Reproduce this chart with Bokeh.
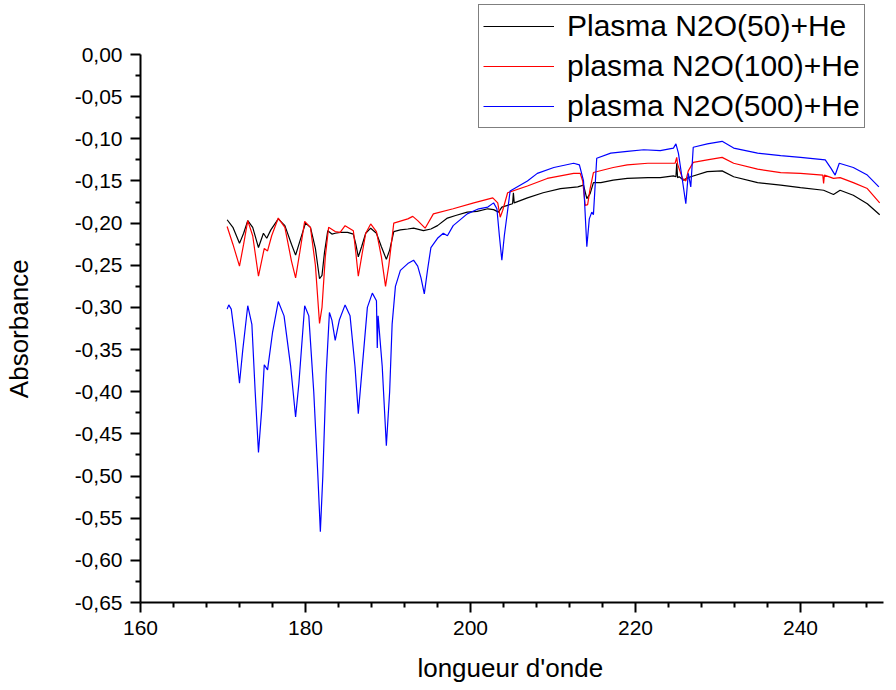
from bokeh.plotting import figure
from bokeh.models import Range1d, FixedTicker, CustomJSTickFormatter, Legend, LegendItem
from bokeh.embed import file_html
from bokeh.resources import INLINE

# ---- data ----
wl_50 = [170.5, 171.2, 172.0, 172.5, 173.0, 173.6, 174.3, 174.9, 175.3, 175.8, 176.7, 177.5, 178.3, 178.8,
         179.3, 180.0, 180.6, 181.2, 181.7, 182.0, 182.3, 182.7, 183.2, 183.6, 184.2, 185.1, 185.8, 186.1,
         186.4, 186.8, 187.3, 187.9, 188.6, 189.2, 189.8, 190.2, 190.7, 191.5, 192.4, 193.1, 194.3, 195.2,
         196.0, 197.2, 198.2, 199.6, 200.8, 202.1, 202.8, 203.4, 203.8, 205.1, 205.2, 205.3, 206.9, 208.8, 210.9, 213.0,
         213.7, 214.1, 214.5, 214.9, 215.8, 217.3, 219.0, 221.5, 223.0, 224.6, 224.9, 225.0, 225.1, 225.3,
         225.8, 226.4, 226.7, 228.7, 230.5, 231.9, 234.8, 237.6, 240.0, 242.8, 244.0, 244.8, 246.4, 248.1, 249.6]
abs_50 = [-0.196, -0.205, -0.224, -0.212, -0.197, -0.205, -0.229, -0.212, -0.218, -0.208, -0.195, -0.203, -0.225, -0.238,
          -0.222, -0.200, -0.205, -0.230, -0.266, -0.262, -0.235, -0.209, -0.213, -0.212, -0.211, -0.211, -0.213, -0.225,
          -0.240, -0.228, -0.212, -0.206, -0.212, -0.228, -0.243, -0.232, -0.210, -0.208, -0.207, -0.206, -0.209, -0.207,
          -0.203, -0.194, -0.191, -0.187, -0.186, -0.183, -0.184, -0.187, -0.181, -0.177, -0.164, -0.176, -0.170, -0.164, -0.159, -0.157,
          -0.155, -0.171, -0.165, -0.152, -0.152, -0.149, -0.147, -0.146, -0.146, -0.144, -0.145, -0.129, -0.146, -0.145,
          -0.149, -0.146, -0.145, -0.139, -0.138, -0.145, -0.152, -0.155, -0.158, -0.161, -0.166, -0.161, -0.167, -0.177, -0.190]

wl_100 = [170.5, 171.2, 172.0, 172.5, 173.0, 173.6, 174.3, 175.0, 175.4, 175.9, 176.7, 177.5, 178.3, 178.8,
          179.3, 179.9, 180.6, 181.2, 181.7, 182.0, 182.4, 182.8, 183.6, 184.2, 184.8, 185.8, 186.1, 186.4,
          186.8, 187.3, 187.9, 188.6, 189.2, 189.7, 190.1, 190.7, 192.4, 193.0, 193.6, 194.5, 195.5, 197.9,
          200.4, 202.7, 203.3, 203.6, 203.9, 204.5, 206.9, 209.3, 212.5, 213.3, 213.6, 213.9, 214.2, 214.5,
          214.9, 217.3, 219.0, 221.5, 223.0, 224.8, 225.0, 225.1, 225.7, 226.1, 226.4, 227.0, 228.7, 230.5,
          231.9, 234.8, 237.6, 240.0, 242.7, 242.8, 242.9, 244.0, 244.8, 246.4, 248.1, 249.6]
abs_100 = [-0.204, -0.225, -0.251, -0.225, -0.197, -0.215, -0.263, -0.230, -0.233, -0.215, -0.194, -0.205, -0.245, -0.265,
           -0.235, -0.198, -0.205, -0.250, -0.319, -0.300, -0.240, -0.205, -0.210, -0.211, -0.203, -0.209, -0.235, -0.263,
           -0.240, -0.212, -0.201, -0.210, -0.240, -0.275, -0.250, -0.200, -0.195, -0.192, -0.197, -0.206, -0.189, -0.183,
           -0.176, -0.170, -0.176, -0.193, -0.185, -0.164, -0.156, -0.147, -0.141, -0.141, -0.150, -0.179, -0.178, -0.159,
           -0.140, -0.134, -0.131, -0.129, -0.129, -0.129, -0.122, -0.130, -0.147, -0.150, -0.138, -0.128, -0.125, -0.122,
           -0.129, -0.136, -0.140, -0.141, -0.143, -0.153, -0.143, -0.147, -0.146, -0.152, -0.159, -0.176]

wl_500 = [170.5, 170.7, 171.0, 171.5, 172.0, 172.4, 173.0, 173.5, 173.9, 174.3, 174.7, 175.0, 175.4, 176.0,
          176.7, 177.4, 178.2, 178.8, 179.2, 179.9, 180.4, 181.0, 181.5, 181.8, 182.1, 182.5, 182.9, 183.2,
          183.6, 184.1, 184.8, 185.4, 186.0, 186.4, 186.8, 187.5, 188.1, 188.6, 188.7, 188.8, 189.3, 189.8,
          190.2, 190.5, 190.9, 191.5, 192.4, 193.1, 193.6, 194.0, 194.4, 194.8, 195.2, 196.0, 196.7, 197.2,
          197.9, 199.6, 201.0, 202.1, 202.8, 203.2, 203.5, 203.8, 204.1, 204.5, 204.8, 206.9, 208.1, 210.1,
          212.5, 213.2, 213.7, 214.1, 214.4, 214.7, 214.9, 215.3, 217.0, 219.0, 221.0, 223.0, 224.6, 224.9,
          225.2, 225.7, 226.1, 226.4, 226.7, 227.0, 228.7, 230.5, 231.9, 234.8, 237.6, 240.0, 243.0, 243.7,
          244.2, 244.7, 246.4, 248.1, 249.5]
abs_500 = [-0.302, -0.297, -0.302, -0.340, -0.390, -0.350, -0.298, -0.320, -0.400, -0.472, -0.420, -0.368, -0.374, -0.330,
           -0.293, -0.310, -0.370, -0.430, -0.390, -0.298, -0.310, -0.400, -0.500, -0.566, -0.500, -0.380, -0.306, -0.315,
           -0.339, -0.315, -0.297, -0.310, -0.370, -0.426, -0.380, -0.300, -0.283, -0.292, -0.348, -0.310, -0.370, -0.464,
           -0.400, -0.320, -0.275, -0.256, -0.248, -0.244, -0.251, -0.265, -0.284, -0.255, -0.229, -0.218, -0.212, -0.215,
           -0.203, -0.189, -0.183, -0.181, -0.176, -0.183, -0.215, -0.244, -0.215, -0.185, -0.162, -0.150, -0.141, -0.134,
           -0.129, -0.131, -0.150, -0.228, -0.195, -0.187, -0.190, -0.123, -0.117, -0.115, -0.113, -0.114, -0.111, -0.106,
           -0.117, -0.150, -0.177, -0.141, -0.157, -0.110, -0.106, -0.103, -0.111, -0.117, -0.120, -0.122, -0.125, -0.135,
           -0.143, -0.129, -0.134, -0.143, -0.157]

series_labels = ["Plasma N2O(50)+He", "plasma N2O(100)+He", "plasma N2O(500)+He"]
x_major = [160, 180, 200, 220, 240]
x_minor = [164, 168, 172, 176, 184, 188, 192, 196, 204, 208, 212, 216, 224, 228, 232, 236, 244, 248]
y_major = [0.0, -0.05, -0.10, -0.15, -0.20, -0.25, -0.30, -0.35, -0.40, -0.45, -0.50, -0.55, -0.60, -0.65]
y_minor = [-0.025, -0.075, -0.125, -0.175, -0.225, -0.275, -0.325, -0.375, -0.425, -0.475, -0.525, -0.575, -0.625]

FONT = "Liberation Sans"

W, H = 894, 688
LEFT, TOP, BOTTOM = 140, 4, 86
PX_PER_X = 8.25      # pixels per wavelength unit
PX_PER_Y = 843.0     # pixels per absorbance unit
x_hi = 160 + (W - LEFT) / PX_PER_X
y_hi = (54 - TOP) / PX_PER_Y

p = figure(width=W, height=H, output_backend="svg", toolbar_location=None,
           x_range=Range1d(160, x_hi), y_range=Range1d(-0.65, y_hi),
           min_border_left=LEFT, min_border_right=0, min_border_top=TOP, min_border_bottom=BOTTOM)
p.outline_line_color = None
p.grid.visible = False
p.background_fill_color = "white"
p.border_fill_color = "white"

r1 = p.line(wl_50, abs_50, line_color="#000000", line_width=1.2)
r2 = p.line(wl_100, abs_100, line_color="#ff0000", line_width=1.2)
r3 = p.line(wl_500, abs_500, line_color="#0000ff", line_width=1.2)

for ax in (p.xaxis[0], p.yaxis[0]):
    ax.axis_line_width = 2
    ax.axis_line_color = "black"
    ax.major_tick_out = 10
    ax.major_tick_in = 0
    ax.minor_tick_out = 5
    ax.minor_tick_in = 0
    ax.major_tick_line_width = 2
    ax.minor_tick_line_width = 2
    ax.major_label_text_font = FONT
    ax.major_label_text_font_size = "21px"
    ax.major_label_text_color = "black"
    ax.axis_label_text_font = FONT
    ax.axis_label_text_font_size = "26px"
    ax.axis_label_text_font_style = "normal"
    ax.axis_label_text_color = "black"

p.xaxis.bounds = (160, 250)
p.yaxis.bounds = (-0.65, 0.0)
p.xaxis.ticker = FixedTicker(ticks=x_major, minor_ticks=x_minor)
p.yaxis.ticker = FixedTicker(ticks=y_major, minor_ticks=y_minor)
p.yaxis.formatter = CustomJSTickFormatter(code="""
    if (Math.abs(tick) < 1e-9) { return "0,00"; }
    return tick.toFixed(2).replace('.', ',');
""")
# trailing no-break spaces re-centre the labels on the drawn axis extent
p.xaxis.axis_label = "longueur d'onde" + "\u00a0\u00a0"
p.yaxis.axis_label = "Absorbance" + "\u00a0" * 7
p.xaxis.major_label_standoff = 8
p.yaxis.major_label_standoff = 8
p.xaxis.axis_label_standoff = 15
p.yaxis.axis_label_standoff = 38

legend = Legend(items=[LegendItem(label=series_labels[0], renderers=[r1]),
                       LegendItem(label=series_labels[1], renderers=[r2]),
                       LegendItem(label=series_labels[2], renderers=[r3])],
                location=(338, 474))
legend.label_text_font = FONT
legend.label_text_font_size = "30px"
legend.label_text_color = "black"
legend.label_height = 34
legend.glyph_height = 34
legend.glyph_width = 71
legend.label_standoff = 13
legend.padding = 4
legend.spacing = 6
legend.margin = 0
legend.border_line_color = "black"
legend.border_line_width = 1
legend.background_fill_alpha = 1.0
p.add_layout(legend, "center")

open("out.html", "w").write(file_html(p, INLINE))
